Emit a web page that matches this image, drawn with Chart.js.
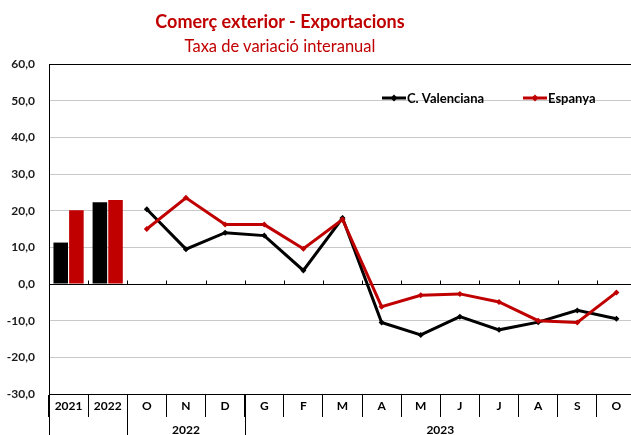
<!DOCTYPE html>
<html>
<head>
<meta charset="utf-8">
<script src="https://cdn.jsdelivr.net/npm/chart.js@4.4.0/dist/chart.umd.min.js"></script>
<style>
  html, body { margin: 0; padding: 0; background: #fff; overflow: hidden; }
  #wrap { position: relative; width: 640px; height: 435px; }
  .ttl { position: absolute; left: 110px; width: 340px; text-align: center; color: #c00000;
         font-family: Lato, 'Open Sans', sans-serif; white-space: nowrap; line-height: 1; }
  #t1 { top: 12px; font-size: 18px; font-weight: bold; }
  #t2 { top: 38px; font-size: 16.5px; }
  canvas { position: absolute; left: 0; top: 0; }
</style>
</head>
<body>
<div id="wrap">
  <canvas id="chart" width="640" height="435"></canvas>
  <div class="ttl" id="t1">Comerç exterior - Exportacions</div>
  <div class="ttl" id="t2">Taxa de variació interanual</div>
</div>
<script>
const categories = ['2021', '2022', 'O', 'N', 'D', 'G', 'F', 'M', 'A', 'M', 'J', 'J', 'A', 'S', 'O']
const yearGroups = [
  { label: '2022', from: 2, to: 4 },
  { label: '2023', from: 5, to: 14 }
]
// annual bars (2021, 2022)
const barValenciana = [11.3, 22.3]
const barEspanya = [20.1, 22.9]
// monthly, Oct 2022 .. Oct 2023
const lineValenciana = [20.4, 9.5, 14.0, 13.2, 3.7, 18.0, -10.5, -13.9, -8.9, -12.5, -10.4, -7.2, -9.5]
const lineEspanya = [15.0, 23.5, 16.2, 16.2, 9.6, 17.6, -6.2, -3.1, -2.7, -4.9, -10.0, -10.5, -2.3]
const seriesNames = ['C. Valenciana', 'Espanya']

const BLACK = '#000000'
const RED = '#c00000'
const FONT = "Lato, 'Open Sans', sans-serif"

const nBars = barValenciana.length
const padBars = arr => arr.concat(new Array(categories.length - arr.length).fill(null))
const padLine = arr => new Array(nBars).fill(null).concat(arr)

const fmt = v => v.toFixed(1).replace('.', ',')

const extras = {
  id: 'extras',
  beforeDatasetsDraw(chart) {
    const { ctx, chartArea, scales: { x, y } } = chart
    const y0 = Math.round(y.getPixelForValue(0)) + 0.5
    const half = (x.getPixelForValue(1) - x.getPixelForValue(0)) / 2
    ctx.save()
    ctx.strokeStyle = BLACK
    ctx.lineWidth = 1
    ctx.beginPath()
    ctx.moveTo(chartArea.left, y0)
    ctx.lineTo(chartArea.right, y0)
    for (let i = 1; i < categories.length; i += 1) {
      const bx = Math.round(x.getPixelForValue(i) - half) + 0.5
      ctx.moveTo(bx, y0)
      ctx.lineTo(bx, y0 - 4)
    }
    ctx.stroke()
    ctx.restore()
  },
  afterDraw(chart) {
    const { ctx, chartArea, scales: { x } } = chart
    const half = (x.getPixelForValue(1) - x.getPixelForValue(0)) / 2
    const bottom = chart.height
    ctx.save()
    // long separators for the year groups
    ctx.strokeStyle = BLACK
    ctx.lineWidth = 1
    ctx.beginPath()
    const seps = [chartArea.left]
    yearGroups.forEach(g => seps.push(x.getPixelForValue(g.from) - half))
    seps.forEach(px => {
      const sx = Math.round(px) + 0.5
      ctx.moveTo(sx, chartArea.bottom)
      ctx.lineTo(sx, bottom)
    })
    ctx.stroke()

    ctx.fillStyle = BLACK
    ctx.font = 'bold 12px ' + FONT
    ctx.textAlign = 'center'
    ctx.textBaseline = 'middle'
    yearGroups.forEach(g => {
      const cx = (x.getPixelForValue(g.from) + x.getPixelForValue(g.to)) / 2
      ctx.fillText(g.label, cx, 430)
    })

    // legend inside the plot
    const items = [
      { name: seriesNames[0], color: BLACK, x0: 382 },
      { name: seriesNames[1], color: RED, x0: 523 }
    ]
    const ly = 98
    items.forEach(it => {
      ctx.strokeStyle = it.color
      ctx.lineWidth = 3
      ctx.beginPath()
      ctx.moveTo(it.x0, ly)
      ctx.lineTo(it.x0 + 24, ly)
      ctx.stroke()
      ctx.fillStyle = it.color
      ctx.beginPath()
      const mx = it.x0 + 12
      ctx.moveTo(mx, ly - 3.5)
      ctx.lineTo(mx + 3.5, ly)
      ctx.lineTo(mx, ly + 3.5)
      ctx.lineTo(mx - 3.5, ly)
      ctx.closePath()
      ctx.fill()
      ctx.fillStyle = BLACK
      ctx.font = 'bold 13px ' + FONT
      ctx.textAlign = 'left'
      ctx.textBaseline = 'alphabetic'
      ctx.fillText(it.name, it.x0 + 25, ly + 4.5)
    })
    ctx.restore()
  }
}

const lineStyle = color => ({
  type: 'line',
  borderColor: color,
  backgroundColor: color,
  borderWidth: 3,
  pointStyle: 'rectRot',
  pointRadius: 3,
  pointBorderWidth: 0,
  tension: 0,
  spanGaps: false
})

new Chart(document.getElementById('chart'), {
  type: 'bar',
  data: {
    labels: categories,
    datasets: [
      { label: seriesNames[0], data: padBars(barValenciana), backgroundColor: BLACK, barPercentage: 0.93, categoryPercentage: 0.8, order: 2 },
      { label: seriesNames[1], data: padBars(barEspanya), backgroundColor: RED, barPercentage: 0.93, categoryPercentage: 0.8, order: 2 },
      { label: seriesNames[0], data: padLine(lineValenciana), ...lineStyle(BLACK), order: 1 },
      { label: seriesNames[1], data: padLine(lineEspanya), ...lineStyle(RED), order: 0 }
    ]
  },
  options: {
    responsive: false,
    animation: false,
    layout: { padding: { top: 64, right: 2, left: 0, bottom: 0 } },
    plugins: {
      legend: { display: false },
      title: { display: false },
      tooltip: { enabled: false }
    },
    scales: {
      x: {
        offset: true,
        grid: { offset: true, drawOnChartArea: false, color: BLACK, tickLength: 23 },
        border: { color: BLACK },
        ticks: { color: BLACK, font: { family: FONT, size: 12, weight: 'bold' }, padding: -18, autoSkip: false, maxRotation: 0 },
        afterFit: s => { s.height = 41 }
      },
      y: {
        min: -30,
        max: 60,
        ticks: { stepSize: 10, callback: v => fmt(v), color: '#1a1a1a', font: { family: FONT, size: 12, weight: 'bold' }, padding: 14 },
        grid: {
          drawTicks: false,
          color: c => (c.tick.value === 60 || c.tick.value === -30 || c.tick.value === 0) ? BLACK : '#c8c8c8',
          lineWidth: 1
        },
        border: { color: BLACK },
        afterFit: s => { s.width = 49 }
      }
    }
  },
  plugins: [extras]
})
</script>
</body>
</html>
